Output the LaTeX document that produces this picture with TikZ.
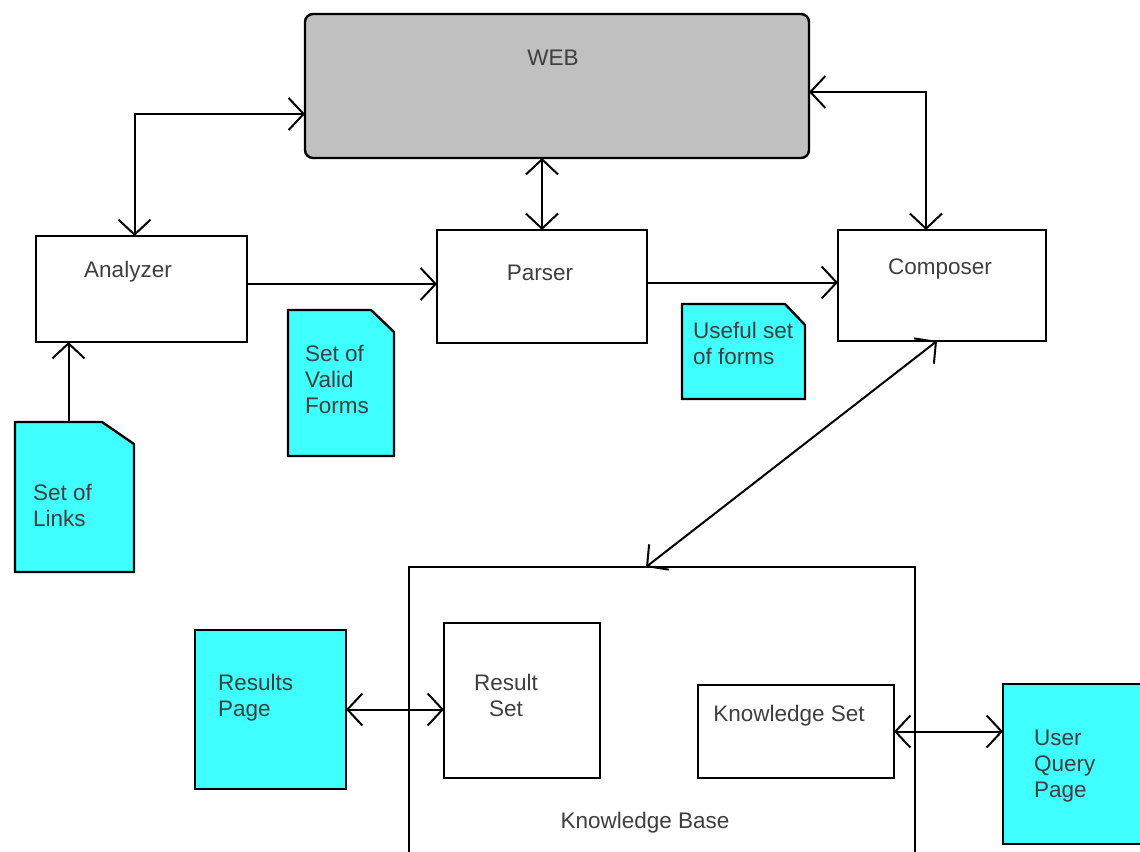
\documentclass[tikz,border=0pt]{standalone}
\usepackage{fontspec}
\setmainfont{Liberation Sans}
\usepackage{tikz}
\definecolor{webGray}{RGB}{192,192,192}
\definecolor{docCyan}{RGB}{64,255,255}
\definecolor{labelGray}{RGB}{62,62,62}
\usetikzlibrary{arrows.meta}

\begin{document}
\begin{tikzpicture}[x=1pt, y=-1pt,
    >={Straight Barb[length=15pt,width=32pt]},
    box/.style 2 args={draw, line width=2.4pt, minimum width=#1, minimum height=#2, inner sep=0pt, outer sep=0pt},
    docbox/.style 2 args={minimum width=#1, minimum height=#2, inner sep=0pt, outer sep=0pt},
    lbl/.style={font=\fontsize{22.5}{26}\selectfont, text=labelGray, inner sep=0pt},
    link/.style={line width=2pt}]
        \useasboundingbox (0,0) rectangle (1140,851);
        \clip (0,0) rectangle (1140,851);
        % boxes
        \node[box={504pt}{144pt}, fill=webGray, rounded corners=8pt] (web) at (557,86) {};
        \node[box={211pt}{106pt}] (analyzer) at (141.5,289) {};
        \node[box={210pt}{113pt}] (parser) at (542,286.5) {};
        \node[box={208pt}{111pt}] (composer) at (942,285.5) {};
        \node[box={506pt}{300pt}] (kb) at (662,717) {};
        \node[box={156pt}{155pt}] (resultset) at (522,700.5) {};
        \node[box={196pt}{93pt}] (kset) at (796,731.5) {};
        \node[box={151pt}{159pt}, fill=docCyan] (results) at (270.5,709.5) {};
        \node[box={147pt}{160pt}, fill=docCyan] (userquery) at (1076.5,764) {};
        % documents with a folded corner
        \node[docbox={119pt}{150pt}] (links) at (74.5,497) {};
        \node[docbox={106pt}{146pt}] (valid) at (341,383) {};
        \node[docbox={123pt}{95pt}] (useful) at (743.5,351.5) {};
        \foreach \d/\fx/\fy in {links/32/22, valid/23/22, useful/20/21}
            \filldraw[fill=docCyan, line width=2.4pt] (\d.south west) |- ([xshift=-\fx pt]\d.north east)
                -- ([yshift=-\fy pt]\d.north east) -- (\d.south east) -- cycle;
        % labels
        \node[lbl, anchor=base] (web-t) at (553,66) {WEB};
        \node[lbl, anchor=base] (analyzer-t) at (128,277) {Analyzer};
        \node[lbl, anchor=base] (parser-t) at (540,280) {Parser};
        \node[lbl, anchor=base] (composer-t) at (940,274) {Composer};
        \node[lbl, anchor=base west, align=left] (useful-t) at (693,364) {Useful set\\of forms};
        \node[lbl, anchor=base west, align=left] (valid-t) at (305,413) {Set of\\Valid\\Forms};
        \node[lbl, anchor=base west, align=left] (links-t) at (33,526) {Set of\\Links};
        \node[lbl, anchor=base west, align=left] (results-t) at (218,716) {Results\\Page};
        \node[lbl, anchor=base, align=center] (resultset-t) at (506,716) {Result\\Set};
        \node[lbl, anchor=base] (kset-t) at (789,721) {Knowledge Set};
        \node[lbl, anchor=base west, align=left] (userquery-t) at (1034,797) {User\\Query\\Page};
        \node[lbl, anchor=base] (kb-t) at (645,828) {Knowledge Base};
        % connectors
        \draw[link, <->] ([xshift=-7pt]analyzer.north) |- ([yshift=-28pt]web.west);
        \draw[link, ->] ([yshift=5pt]analyzer.east) -- ([yshift=5pt]analyzer.east -| parser.west);
        \draw[link, <->] (parser.north |- web.south) -- (parser.north);
        \draw[link, ->] ([yshift=4pt]parser.east) -- ([yshift=4pt]parser.east -| composer.west);
        \draw[link, <->] ([xshift=-16pt]composer.north) |- ([yshift=-6pt]web.east);
        \draw[link, ->] ([xshift=-6pt]links.north) -- ([xshift=-6pt]links.north |- analyzer.south);
        \draw[link, <->] ([xshift=-5pt]composer.south) -- ([xshift=-16pt]kb.north);
        \draw[link, <->] (results.east) -- (results.east -| resultset.west);
        \draw[link, <->] (kset.east) -- (kset.east -| userquery.west);
    \end{tikzpicture}
\end{document}
